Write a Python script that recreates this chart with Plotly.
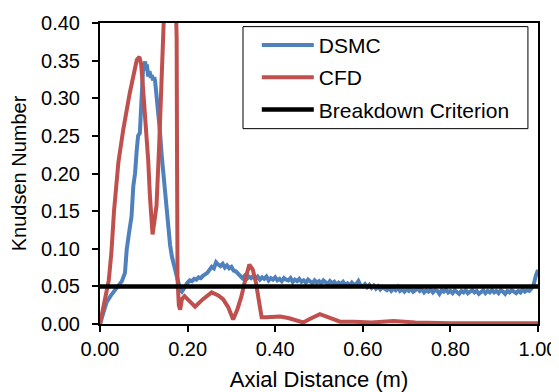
import plotly.graph_objects as go

# DSMC - peak region read point by point
dsmc_x_head = [0.000, 0.008, 0.015, 0.025, 0.035, 0.041, 0.050, 0.057, 0.061, 0.066,
               0.072, 0.076, 0.080, 0.084, 0.087, 0.091, 0.093, 0.095, 0.097, 0.099,
               0.101, 0.103, 0.105, 0.107, 0.110, 0.113, 0.116, 0.118, 0.121, 0.124,
               0.126, 0.129, 0.133, 0.137, 0.141, 0.146, 0.152, 0.156, 0.160, 0.164,
               0.167, 0.171, 0.175, 0.179, 0.183, 0.187, 0.191, 0.195]
dsmc_y_head = [0.000, 0.016, 0.029, 0.038, 0.046, 0.050, 0.057, 0.068, 0.099, 0.120,
               0.143, 0.183, 0.200, 0.232, 0.250, 0.254, 0.280, 0.307, 0.325, 0.347,
               0.343, 0.349, 0.337, 0.345, 0.329, 0.336, 0.327, 0.331, 0.324, 0.328,
               0.322, 0.305, 0.285, 0.255, 0.223, 0.190, 0.145, 0.128, 0.105, 0.090,
               0.081, 0.070, 0.064, 0.055, 0.046, 0.043, 0.047, 0.052]

# DSMC - tail, sampled every 0.005 m from 0.200 to 1.000 (values x1000)
dsmc_tail_milli = [
    55, 58, 57, 60, 59, 62, 61, 64, 66, 68,
    72, 76, 74, 82, 79, 77, 80, 75, 78, 74,
    76, 71, 70, 66, 64, 61, 64, 60, 63, 61,
    64, 60, 63, 59, 62, 60, 63, 58, 61, 59,
    62, 58, 60, 57, 61, 59, 58, 61, 56, 59,
    57, 60, 56, 58, 55, 59, 57, 54, 58, 55,
    57, 54, 58, 55, 53, 57, 54, 56, 52, 55,
    53, 56, 52, 54, 51, 55, 52, 53, 57, 51,
    50, 53, 49, 52, 48, 51, 47, 50, 46, 49,
    47, 45, 48, 44, 47, 45, 49, 44, 46, 43,
    46, 44, 47, 43, 45, 48, 44, 46, 42, 45,
    43, 46, 42, 45, 44, 40, 45, 43, 46, 42,
    44, 41, 45, 43, 40, 44, 42, 45, 41, 43,
    45, 42, 44, 40, 43, 45, 41, 44, 42, 45,
    42, 44, 41, 45, 43, 40, 44, 42, 45, 43,
    41, 44, 42, 46, 43, 45, 44, 47, 52, 64,
    72]
dsmc_x_tail = [round(0.200 + 0.005 * i, 3) for i in range(len(dsmc_tail_milli))]

dsmc_x = dsmc_x_head + dsmc_x_tail
dsmc_y = dsmc_y_head + [v / 1000 for v in dsmc_tail_milli]

# CFD
cfd_x = [0.000, 0.011, 0.020, 0.026, 0.032, 0.042, 0.053, 0.068, 0.078, 0.084,
         0.090, 0.094, 0.099, 0.105, 0.110, 0.114, 0.120, 0.125, 0.129, 0.135,
         0.141, 0.145, 0.158, 0.172, 0.175, 0.176, 0.177, 0.180, 0.183, 0.187,
         0.193, 0.205, 0.217, 0.235, 0.255, 0.270, 0.281, 0.293, 0.304, 0.314,
         0.323, 0.333, 0.341, 0.349, 0.356, 0.363, 0.369, 0.380, 0.395, 0.411,
         0.430, 0.450, 0.464, 0.480, 0.502, 0.525, 0.548, 0.580, 0.620, 0.670,
         0.720, 0.800, 0.900, 1.000]
cfd_y = [0.000, 0.030, 0.058, 0.095, 0.150, 0.215, 0.258, 0.307, 0.335, 0.351,
         0.355, 0.345, 0.307, 0.265, 0.218, 0.170, 0.119, 0.140, 0.157, 0.236,
         0.325, 0.450, 0.600, 0.450, 0.380, 0.200, 0.060, 0.025, 0.019, 0.033,
         0.037, 0.030, 0.023, 0.033, 0.042, 0.038, 0.033, 0.022, 0.006, 0.020,
         0.037, 0.062, 0.079, 0.072, 0.055, 0.030, 0.009, 0.009, 0.010, 0.010,
         0.008, 0.004, 0.002, 0.007, 0.013, 0.008, 0.003, 0.003, 0.002, 0.004,
         0.002, 0.001, 0.001, 0.001]

crit_x = [0.0, 1.0]
crit_y = [0.05, 0.05]

font = "Liberation Sans, Arial, sans-serif"

fig = go.Figure()
fig.add_trace(go.Scatter(x=dsmc_x, y=dsmc_y, mode="lines", name="DSMC",
                         legendgroup="a",
                         line=dict(color="#4F81BD", width=4)))
fig.add_trace(go.Scatter(x=cfd_x, y=cfd_y, mode="lines", name="CFD",
                         legendgroup="b",
                         line=dict(color="#C0504D", width=4)))
fig.add_trace(go.Scatter(x=crit_x, y=crit_y, mode="lines", name="Breakdown Criterion",
                         legendgroup="c",
                         line=dict(color="black", width=4.5)))

# frame round the legend, drawn as a shape so it can be sized like the original
fig.add_shape(type="rect", xref="paper", yref="paper",
              x0=0.3265, x1=0.977, y0=0.649, y1=0.988,
              line=dict(color="black", width=1), fillcolor="white", layer="above")

# the page body has an 8px margin, so the figure is 8px smaller each way
fig.update_layout(
    width=551, height=384,
    margin=dict(l=92, r=21, t=15, b=68),
    paper_bgcolor="white", plot_bgcolor="white",
    font=dict(family=font, size=20, color="black"),
    showlegend=True,
    legend=dict(x=0.358, y=0.994, xanchor="left", yanchor="top",
                bgcolor="rgba(0,0,0,0)", borderwidth=0,
                font=dict(size=21), itemwidth=52, tracegroupgap=2),
)
fig.update_xaxes(range=[0, 1.0], dtick=0.2, tick0=0, tickformat=".2f",
                 ticks="outside", ticklen=6, tickwidth=2, tickcolor="black",
                 showline=True, linewidth=2, linecolor="black", mirror=True,
                 showgrid=False, zeroline=False, ticklabelstandoff=0,
                 automargin=False, tickfont=dict(size=20),
                 title=dict(text="Axial Distance (m)", standoff=17,
                            font=dict(size=22)))
fig.update_yaxes(range=[0, 0.40], dtick=0.05, tick0=0, tickformat=".2f",
                 ticks="outside", ticklen=6, tickwidth=2, tickcolor="black",
                 showline=True, linewidth=2, linecolor="black", mirror=True,
                 showgrid=False, zeroline=False, ticklabelstandoff=8,
                 automargin=False, tickfont=dict(size=20),
                 title=dict(text="Knudsen Number", standoff=10,
                            font=dict(size=20)))

fig.write_html("out.html")
